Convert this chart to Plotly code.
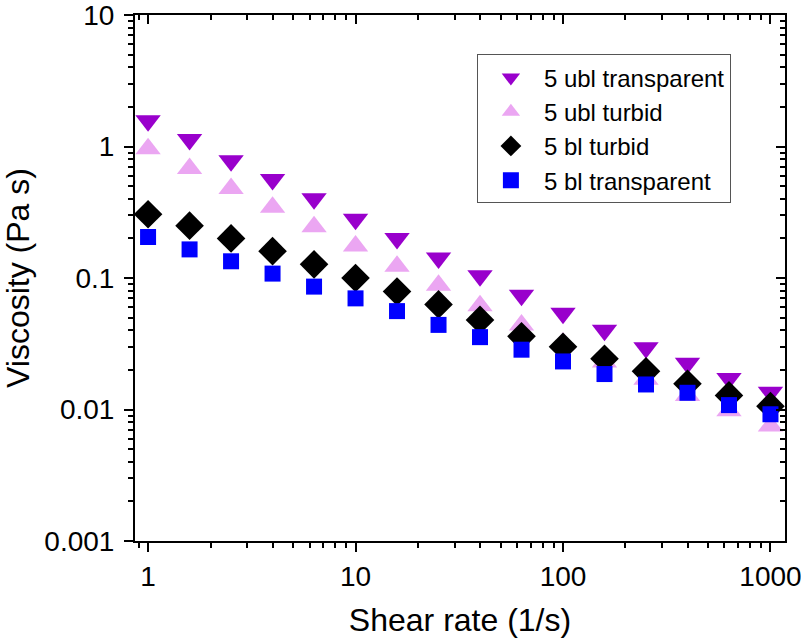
import plotly.graph_objects as go
import math

shear_rate = [1, 1.585, 2.512, 3.981, 6.310, 10, 15.85, 25.12, 39.81, 63.10,
              100, 158.5, 251.2, 398.1, 631.0, 1000]

ubl_transparent = [1.57, 1.13, 0.78, 0.56, 0.40, 0.28, 0.20, 0.142, 0.104, 0.074,
                   0.054, 0.040, 0.0295, 0.0225, 0.0172, 0.0135]
ubl_turbid = [0.96, 0.68, 0.48, 0.345, 0.245, 0.175, 0.123, 0.088, 0.0614, 0.044,
              0.032, 0.023, 0.017, 0.0128, 0.0098, 0.0075]
bl_turbid = [0.305, 0.25, 0.20, 0.16, 0.127, 0.100, 0.079, 0.063, 0.048, 0.036,
             0.030, 0.0243, 0.0195, 0.0157, 0.0128, 0.0106]
bl_transparent = [0.205, 0.165, 0.134, 0.108, 0.086, 0.0700, 0.056, 0.0440, 0.0355, 0.0285,
                  0.0232, 0.0186, 0.0155, 0.0134, 0.0108, 0.0092]

x_ticks = [1, 10, 100, 1000]
x_ticklabels = ["1", "10", "100", "1000"]
y_ticks = [0.001, 0.01, 0.1, 1, 10]
y_ticklabels = ["0.001", "0.01", "0.1", "1", "10"]

series = [
    ("5 ubl transparent", ubl_transparent, "triangle-down", "#9900CC", 22),
    ("5 ubl turbid", ubl_turbid, "triangle-up", "#EBA6F2", 22),
    ("5 bl turbid", bl_turbid, "diamond", "#000000", 22),
    ("5 bl transparent", bl_transparent, "square", "#0000FF", 16),
]

fig = go.Figure()
for name, vals, sym, col, sz in series:
    fig.add_trace(go.Scatter(
        x=shear_rate, y=vals, mode="markers", name=name,
        marker=dict(symbol=sym, color=col, size=sz, line=dict(width=0)),
    ))
# invisible trace to carry the mirrored (inside-tick) top/right axes
fig.add_trace(go.Scatter(x=[], y=[], xaxis="x2", yaxis="y2",
                         showlegend=False, hoverinfo="skip"))

font_family = "Liberation Sans, Arial, sans-serif"
xrange = [math.log10(0.865), math.log10(1175)]
yrange = [-3, 1]
common = dict(showgrid=False, zeroline=False, showline=True, linecolor="black",
              linewidth=2, tickwidth=2, tickcolor="black", automargin=False)

fig.update_layout(
    width=801, height=643,
    margin=dict(l=135, r=16, t=15, b=102),
    paper_bgcolor="white", plot_bgcolor="white",
    font=dict(family=font_family, color="black"),
    legend=dict(
        x=0.526, y=0.925, xanchor="left", yanchor="top",
        bordercolor="#555555", borderwidth=1,
        font=dict(size=24, family=font_family),
        bgcolor="white", itemsizing="trace", itemwidth=56,
        tracegroupgap=0,
    ),
    showlegend=True,
    xaxis=dict(
        type="log", range=xrange, tickvals=x_ticks, ticktext=x_ticklabels,
        ticks="outside", ticklen=9, ticklabeloverflow="allow",
        minor=dict(ticks="outside", ticklen=5, tickwidth=2, tickcolor="black",
                   dtick="D1", showgrid=False),
        tickfont=dict(size=28),
        title=dict(text="Shear rate (1/s)", font=dict(size=32), standoff=18),
        **common,
    ),
    yaxis=dict(
        type="log", range=yrange, tickvals=y_ticks, ticktext=y_ticklabels,
        ticks="outside", ticklen=9, ticklabeloverflow="allow",
        ticklabelstandoff=4,
        minor=dict(ticks="outside", ticklen=5, tickwidth=2, tickcolor="black",
                   dtick="D1", showgrid=False),
        tickfont=dict(size=28),
        title=dict(text="Viscosity (Pa s)", font=dict(size=32), standoff=12),
        **common,
    ),
    xaxis2=dict(
        type="log", range=xrange, tickvals=x_ticks, overlaying="x", side="top",
        anchor="y2", showticklabels=False, ticks="inside", ticklen=9,
        minor=dict(ticks="inside", ticklen=5, tickwidth=2, tickcolor="black",
                   dtick="D1", showgrid=False),
        **common,
    ),
    yaxis2=dict(
        type="log", range=yrange, tickvals=y_ticks, overlaying="y", side="right",
        anchor="x2", showticklabels=False, ticks="inside", ticklen=9,
        minor=dict(ticks="inside", ticklen=5, tickwidth=2, tickcolor="black",
                   dtick="D1", showgrid=False),
        **common,
    ),
)

fig.write_html("out.html")
